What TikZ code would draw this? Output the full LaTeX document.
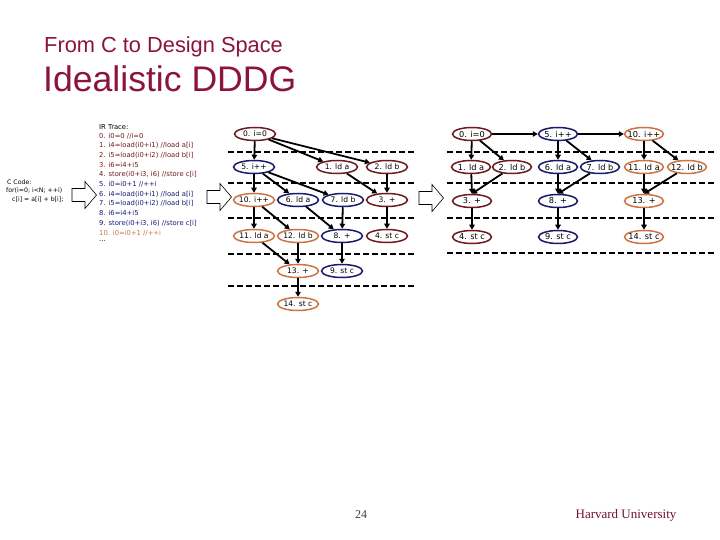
\documentclass[tikz,border=0pt]{standalone}
\usepackage{fontspec}
\setmainfont{Liberation Sans}
\newfontfamily\serfont{Liberation Serif}
\newfontfamily\smallfont{DejaVu Sans}
\usetikzlibrary{shapes.geometric,arrows.meta}
\definecolor{maroon}{RGB}{110,25,30}
\definecolor{navy}{RGB}{25,25,110}
\definecolor{orng}{RGB}{205,115,65}
\definecolor{titlec}{RGB}{140,20,60}
\begin{document}
\begin{tikzpicture}[x=1pt,y=-1pt,
  nd/.style={ellipse,draw,line width=1.5pt,fill=white,minimum height=13pt,inner ysep=0pt,inner xsep=-4pt},
  lf/.style={minimum width=41pt,font=\smallfont\fontsize{7.6}{8}\selectfont},
  rf/.style={minimum width=39pt,font=\smallfont\fontsize{8.2}{9}\selectfont},
  mr/.style={nd,draw=maroon},
  nv/.style={nd,draw=navy},
  og/.style={nd,draw=orng},
  ed/.style={line width=1.8pt,-{Triangle[length=5pt,width=5.5pt]}},
  sep/.style={line width=1.4pt,dash pattern=on 6pt off 3pt},
  ir/.style={anchor=west,inner sep=0pt,font=\smallfont\fontsize{6.8}{7}\selectfont},
  cc/.style={anchor=west,inner sep=0pt,font=\smallfont\fontsize{6.2}{7}\selectfont},
  blk/.style={draw,line width=0.6pt,fill=white}
]
\useasboundingbox (0,0) rectangle (720,540);
% titles
\node[anchor=base west,inner sep=0pt,text=titlec,font=\fontsize{21.8}{24}\selectfont] (t1) at (44,53) {From C to Design Space};
\node[anchor=base west,inner sep=0pt,text=titlec,font=\fontsize{35.6}{38}\selectfont] (t2) at (43,92) {Idealistic DDDG};
% C code
\node[cc] (c0) at (7,182) {C Code:};
\node[cc] (c1) at (6,191) {for(i=0; i<N; ++i)};
\node[cc] (c2) at (12,200) {c[i] = a[i] + b[i];};
% IR trace
\node[ir] (r0) at (99,127) {IR Trace:};
\node[ir,text=maroon] (r1) at (99,136.2) {0. i0=0 //i=0};
\node[ir,text=maroon] (r2) at (99,145.6) {1. i4=load(i0+i1) //load a[i]};
\node[ir,text=maroon] (r3) at (99,155) {2. i5=load(i0+i2) //load b[i]};
\node[ir,text=maroon] (r4) at (99,164.5) {3. i6=i4+i5};
\node[ir,text=maroon] (r5) at (99,174.2) {4. store(i0+i3, i6) //store c[i]};
\node[ir,text=navy] (r6) at (99,184) {5. i0=i0+1 //++i};
\node[ir,text=navy] (r7) at (99,194) {6. i4=load(i0+i1) //load a[i]};
\node[ir,text=navy] (r8) at (99,203.8) {7. i5=load(i0+i2) //load b[i]};
\node[ir,text=navy] (r9) at (99,213.3) {8. i6=i4+i5};
\node[ir,text=navy] (r10) at (99,223) {9. store(i0+i3, i6) //store c[i]};
\node[ir,text=orng] (r11) at (99,232.8) {10. i0=i0+1 //++i};
\node[ir] (r12) at (99,241.5) {...};
% block arrows
\foreach \bx/\by in {72/195,207/197,419/198}{
  \draw[blk] (\bx,\by-6.5)--(\bx+13,\by-6.5)--(\bx+13,\by-13.5)--(\bx+24.5,\by)--(\bx+13,\by+13.5)--(\bx+13,\by+6.5)--(\bx,\by+6.5)--cycle;
}
% dashed separators
\foreach \yy in {152,183,218,254,286}{\draw[sep] (228,\yy)--(415,\yy);}
\foreach \yy in {152,183,218,253}{\draw[sep] (447,\yy)--(716,\yy);}
% left graph
\node[mr,lf] (a0) at (255,134) {0. i=0};
\node[nv,lf] (a5) at (254,167) {5. i++};
\node[mr,lf] (a1) at (337,167) {1. ld a};
\node[mr,lf] (a2) at (387,167) {2. ld b};
\node[og,lf] (a10) at (254,200) {10. i++};
\node[nv,lf] (a6) at (298,200) {6. ld a};
\node[nv,lf] (a7) at (343,200) {7. ld b};
\node[mr,lf] (a3) at (387,200) {3. +};
\node[og,lf] (a11) at (254,236) {11. ld a};
\node[og,lf] (a12) at (298,236) {12. ld b};
\node[nv,lf] (a8) at (342,236) {8. +};
\node[mr,lf] (a4) at (387,236) {4. st c};
\node[og,lf] (a13) at (298,271) {13. +};
\node[nv,lf] (a9) at (342,271) {9. st c};
\node[og,lf] (a14) at (298,304) {14. st c};
\draw[ed] (a0) -- (a5);
\draw[ed] (a0) -- (a1);
\draw[ed] (a0) -- (a2);
\draw[ed] (a5) -- (a10);
\draw[ed] (a5) -- (a6);
\draw[ed] (a5) -- (a7);
\draw[ed] (a1) -- (a3);
\draw[ed] (a2) -- (a3);
\draw[ed] (a10) -- (a11);
\draw[ed] (a10) -- (a12);
\draw[ed] (a6) -- (a8);
\draw[ed] (a7) -- (a8);
\draw[ed] (a3) -- (a4);
\draw[ed] (a11) -- (a13);
\draw[ed] (a12) -- (a13);
\draw[ed] (a8) -- (a9);
\draw[ed] (a13) -- (a14);
% right graph
\node[mr,rf] (b0) at (472,134) {0. i=0};
\node[nv,rf] (b5) at (558,134) {5. i++};
\node[og,rf] (b10) at (644,134) {10. i++};
\node[mr,rf] (b1) at (471,167) {1. ld a};
\node[mr,rf] (b2) at (512,167) {2. ld b};
\node[nv,rf] (b6) at (558,167) {6. ld a};
\node[nv,rf] (b7) at (600,167) {7. ld b};
\node[og,rf] (b11) at (644,167) {11. ld a};
\node[og,rf] (b12) at (687,167) {12. ld b};
\node[mr,rf] (b3) at (472,201) {3. +};
\node[nv,rf] (b8) at (558,201) {8. +};
\node[og,rf] (b13) at (644,201) {13. +};
\node[mr,rf] (b4) at (472,237) {4. st c};
\node[nv,rf] (b9) at (558,237) {9. st c};
\node[og,rf] (b14) at (644,237) {14. st c};
\draw[ed] (b0) -- (b5);
\draw[ed] (b5) -- (b10);
\draw[ed] (b0) -- (b1);
\draw[ed] (b0) -- (b2);
\draw[ed] (b5) -- (b6);
\draw[ed] (b5) -- (b7);
\draw[ed] (b10) -- (b11);
\draw[ed] (b10) -- (b12);
\draw[ed] (b1) -- (b3.north);
\draw[ed] (b2) -- (b3.north);
\draw[ed] (b6) -- (b8.north);
\draw[ed] (b7) -- (b8.north);
\draw[ed] (b11) -- (b13.north);
\draw[ed] (b12) -- (b13.north);
\draw[ed] (b3) -- (b4);
\draw[ed] (b8) -- (b9);
\draw[ed] (b13) -- (b14);
% footer
\node[inner sep=0pt,font=\serfont\fontsize{12}{14}\selectfont,text=black!75] (pg) at (361,515) {24};
\node[inner sep=0pt,font=\serfont\fontsize{13}{15}\selectfont,text=titlec!80!black] (hu) at (626,515) {Harvard University};
\end{tikzpicture}
\end{document}
